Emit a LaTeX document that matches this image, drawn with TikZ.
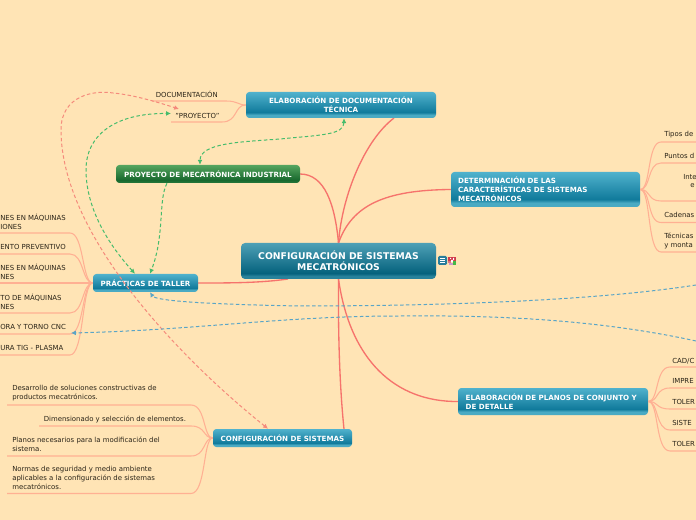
\documentclass[tikz,border=0pt]{standalone}
\usepackage{fontspec}
\setmainfont{DejaVu Sans}
\usetikzlibrary{arrows.meta,calc}
\definecolor{paper}{HTML}{FFE4B5}
\definecolor{edgered}{HTML}{F6736C}
\definecolor{leafred}{HTML}{FFB093}
\definecolor{dashred}{HTML}{F58A7C}
\definecolor{dashgreen}{HTML}{45BC6C}
\definecolor{dashblue}{HTML}{5AA5C6}
\definecolor{inktext}{HTML}{2A2418}
\definecolor{bluetop}{HTML}{50B2CD}
\definecolor{bluelow}{HTML}{107A9B}
\definecolor{blueband}{HTML}{4AAAC3}
\definecolor{roottop}{HTML}{4EA0B6}
\definecolor{rootlow}{HTML}{05627D}
\definecolor{rootband}{HTML}{28829B}
\definecolor{greentop}{HTML}{55A55F}
\definecolor{greenlow}{HTML}{18692E}
\definecolor{greenband}{HTML}{28783C}
\definecolor{iconblue}{HTML}{287D9B}
\definecolor{iconred}{HTML}{D03A4A}
\pgfdeclareverticalshading{topicblue}{100bp}{color(0bp)=(blueband); color(25bp)=(blueband); color(31bp)=(blueband); color(36bp)=(bluelow); color(75bp)=(bluetop); color(100bp)=(bluetop)}
\pgfdeclareverticalshading{rootblue}{100bp}{color(0bp)=(rootband); color(25bp)=(rootband); color(29bp)=(rootband); color(33bp)=(rootlow); color(75bp)=(roottop); color(100bp)=(roottop)}
\pgfdeclareverticalshading{topicgreen}{100bp}{color(0bp)=(greenband); color(25bp)=(greenband); color(33bp)=(greenlow); color(75bp)=(greentop); color(100bp)=(greentop)}
\tikzset{
	topic/.style = {shading=topicblue, rounded corners=2.5pt, inner sep=0pt, text=white, align=center, font=\fontsize{5.35pt}{6.9pt}\selectfont\bfseries},
	leaf/.style = {inner sep=0pt, anchor=west, align=left, text=inktext, font=\fontsize{5.2pt}{6.75pt}\selectfont},
	mainedge/.style = {edgered, line width=1pt},
	leafedge/.style = {leafred, line width=0.8pt},
	linkedge/.style = {dashed, dash pattern=on 2.6pt off 1.8pt, line width=0.75pt},
	linktip/.style = {-{Latex[length=3.6pt,width=3.6pt]}},
	linktips/.style = {{Latex[length=3.6pt,width=3.6pt]}-{Latex[length=3.6pt,width=3.6pt]}},
}
\begin{document}
\begin{tikzpicture}[x=0.75pt, y=-0.75pt]
	\fill[paper] (0,0) rectangle (696,520);
	\useasboundingbox (0,0) rectangle (696,520);
	% free ends
	\coordinate (edgeup) at (696,285);
	\coordinate (edgedown) at (696,341);
	% main connectors
	\coordinate (hubtop) at (338.5,243);
	\coordinate (hubbot) at (338.5,279);
	\coordinate (hubleft) at (288,279);
	\coordinate (doctip) at (394,118);
	\coordinate (cfgtip) at (344,429);
	\draw[mainedge] (hubtop) .. controls (342,195) and (365,140) .. (doctip);
	\draw[mainedge] (hubtop) .. controls (335,205) and (325,174) .. (300,174);
	\draw[mainedge] (hubtop) .. controls (352,205) and (385,190) .. (451,189.5);
	\draw[mainedge] (hubleft) .. controls (260,283) and (230,283) .. (198,283);
	\draw[mainedge] (hubbot) .. controls (338,340) and (340,390) .. (cfgtip);
	\draw[mainedge] (hubbot) .. controls (350,360) and (395,402) .. (458,401.5);
	% topics
	\node[topic, shading=rootblue, rounded corners=3pt, minimum width=146.25pt, minimum height=27pt, font=\fontsize{6.95pt}{8.6pt}\selectfont\bfseries] (root) at (338.5,261) {CONFIGURACIÓN DE SISTEMAS\\MECATRÓNICOS};
	\node[topic, minimum width=142.5pt, minimum height=19.5pt] (elab) at (341,105) {ELABORACIÓN DE DOCUMENTACIÓN\\TÉCNICA};
	\node[topic, shading=topicgreen, minimum width=138pt, minimum height=13.5pt] (proy) at (208,174) {PROYECTO DE MECATRÓNICA INDUSTRIAL};
	\node[topic, minimum width=141.75pt, minimum height=26.25pt, text width=131pt, align=left] (carac) at (545.5,189.5) {DETERMINACIÓN DE LAS\\CARACTERÍSTICAS DE SISTEMAS\\MECATRÓNICOS};
	\node[topic, minimum width=78.75pt, minimum height=13.5pt] (prac) at (145.5,283) {PRÁCTICAS DE TALLER};
	\node[topic, minimum width=104.25pt, minimum height=13.5pt] (conf) at (282.5,438) {CONFIGURACIÓN DE SISTEMAS};
	\node[topic, minimum width=142.5pt, minimum height=20.25pt, text width=131pt, align=left] (plan) at (553,401.5) {ELABORACIÓN DE PLANOS DE CONJUNTO Y\\DE DETALLE};
	% icons on the root
	\fill[rounded corners=1pt, iconblue] (438,256) rectangle (447,265);
	\draw[white, line width=0.5pt] (440,258.5) -- (445,258.5) (440,260.5) -- (445,260.5) (440,262.5) -- (445,262.5);
	\fill[iconred] (448,257) rectangle (456,261);
	\fill[white] (450,258) rectangle (451,259) (453,258) rectangle (454,260) (451,260) rectangle (453,262);
	\fill[iconred!70] (448,261) rectangle (451,263);
	\fill[green!45!gray] (453,261) rectangle (456,265);
	\fill[violet!40] (449,263) rectangle (453,265);
	% top leaves
	\node[leaf] (ldoc) at (155.5,94.5) {DOCUMENTACIÓN};
	\node[leaf] (lpro) at (175,115.5) {"PROYECTO"};
	\coordinate (udoc) at (152,101);
	\coordinate (upro) at (171,122);
	\draw[leafedge] (elab.west) .. controls (238,105) and (238,101) .. (226,101) -- (udoc);
	\draw[leafedge] (elab.west) .. controls (234,105) and (238,122) .. (222,122) -- (upro);
	% practice leaves
	\node[leaf] (pa) at (0,221.5) {NES EN MÁQUINAS\\IONES};
	\node[leaf] (pb) at (0,247) {ENTO PREVENTIVO};
	\node[leaf] (pc) at (0,272) {NES EN MÁQUINAS\\NES};
	\node[leaf] (pd) at (0,301.5) {TO DE MÁQUINAS\\NES};
	\node[leaf] (pe) at (0,327) {ORA Y TORNO CNC};
	\node[leaf] (pf) at (0,348) {URA TIG - PLASMA};
	\foreach \yy in {233,254,313,334,355}
		\draw[leafedge] (prac.west) .. controls (82,283) and (84,\yy) .. (70,\yy) -- (0,\yy);
	\coordinate (ustraight) at (0,283);
	\draw[leafedge] (prac.west) -- (ustraight);
	% configuration leaves
	\node[leaf] (ca) at (12,393.5) {Desarrollo de soluciones constructivas de\\productos mecatrónicos.};
	\node[leaf] (cb) at (43.5,419.5) {Dimensionado y selección de elementos.};
	\node[leaf] (cc) at (12,444.5) {Planos necesarios para la modificación del\\sistema.};
	\node[leaf] (cd) at (12,478) {Normas de seguridad y medio ambiente\\aplicables a la configuración de sistemas\\mecatrónicos.};
	\foreach \yy/\xa in {405/7,426/39,456/7,493.5/7}
		\draw[leafedge] (conf.west) .. controls (203,438) and (206,\yy) .. (191,\yy) -- (\xa,\yy);
	% right leaves
	\node[leaf] (ra) at (664,135) {Tipos de};
	\node[leaf] (rb) at (664,156) {Puntos d};
	\node[leaf] (rc) at (683,177) {Inte};
	\node[leaf] (rd) at (690,186) {e};
	\node[leaf] (re) at (664,215) {Cadenas};
	\node[leaf] (rf) at (664,240.5) {Técnicas\\y monta};
	\foreach \yy in {142,163,201,222.5,252}
		\draw[leafedge] (carac.east) .. controls (651,189.5) and (647,\yy) .. (661,\yy) -- (696,\yy);
	\node[leaf] (sa) at (672,361) {CAD/C};
	\node[leaf] (sb) at (672,381) {IMPRE};
	\node[leaf] (sc) at (672,402) {TOLER};
	\node[leaf] (sd) at (672,423) {SISTE};
	\node[leaf] (se) at (672,444) {TOLER};
	\foreach \yy in {367,388,409,430,451}
		\draw[leafedge] (plan.east) .. controls (659,401.5) and (655,\yy) .. (670,\yy) -- (696,\yy);
	% links
	\draw[linkedge, linktips, dashred] ($(conf.north)+(-14.5,0)$) .. controls (170,350) and (61,230) .. (61,130) .. controls (61,95) and (95,90) .. (113,93) .. controls (135,95) and (160,103) .. (179,109);
	\draw[linkedge, linktips, dashgreen] ($(prac.north)+(-10.5,0)$) .. controls (100,235) and (86,200) .. (86,170) .. controls (86,135) and (115,113) .. (171,113.5);
	\draw[linkedge, linktip, dashgreen] ($(proy.south)+(-41,0)$) .. controls (158,200) and (165,235) .. ($(prac.north)+(4.5,0)$);
	\draw[linkedge, linktips, dashgreen] ($(elab.south)+(3,0)$) .. controls (344,135) and (320,135) .. (280,139) .. controls (240,142) and (200,143) .. ($(proy.north)+(-8,0)$);
	\draw[linkedge, linktip, dashblue] (edgeup) .. controls (600,300) and (450,306) .. (300,306) .. controls (190,304) and (155,300) .. ($(prac.south)+(4.5,0)$);
	\draw[linkedge, linktip, dashblue] (edgedown) .. controls (600,320) and (500,315) .. (400,316) .. controls (280,316) and (200,330) .. (71,333);
\end{tikzpicture}
\end{document}
